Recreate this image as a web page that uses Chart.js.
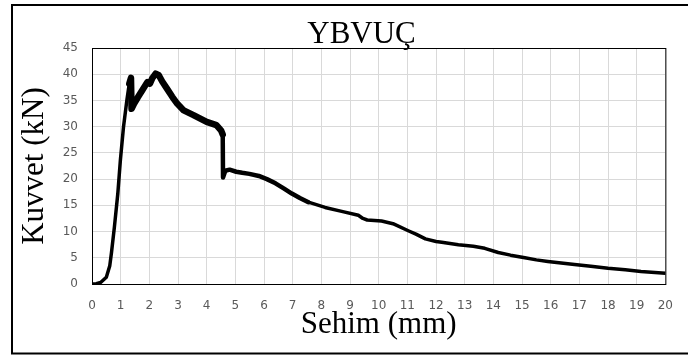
<!DOCTYPE html>
<html>
<head>
<meta charset="utf-8">
<script src="https://cdn.jsdelivr.net/npm/chart.js@4"></script>
<style>
  html,body{margin:0;padding:0;background:#fff;}
  #wrap{width:688px;height:356px;position:relative;}
</style>
</head>
<body>
<div id="wrap"><canvas id="c" width="688" height="356"></canvas></div>
<script>
// Deflection (mm) and force (kN)
const sehim = [0, 0.15, 0.3, 0.5, 0.62, 0.68, 0.78, 0.9, 0.99, 1.1, 1.22, 1.3, 1.36, 1.38, 1.47, 1.6, 1.76, 1.93, 2.02, 2.1, 2.22, 2.33, 2.45, 2.62, 2.8, 2.97, 3.2, 3.54, 4.0, 4.34, 4.5, 4.56, 4.57, 4.65, 4.8, 5.03, 5.24, 5.49, 5.82, 6.1, 6.4, 6.7, 6.97, 7.25, 7.55, 8.13, 8.71, 9.29, 9.45, 9.6, 10.1, 10.5, 11.05, 11.3, 11.63, 12.0, 12.2, 12.78, 13.3, 13.7, 14.17, 14.6, 15.1, 15.5, 15.9, 16.83, 17.4, 18.0, 18.6, 19.15, 20];
const kuvvet = [0, 0.05, 0.3, 1.3, 3.5, 6, 10.8, 17.2, 23.6, 30, 35.2, 38.2, 39.3, 33.4, 34.4, 35.6, 37, 38.5, 38.2, 39.2, 40.1, 39.8, 38.6, 37.2, 35.7, 34.4, 33.1, 32.2, 30.9, 30.3, 29.3, 28.5, 20.3, 21.6, 21.8, 21.4, 21.2, 21.0, 20.6, 20.0, 19.2, 18.2, 17.25, 16.4, 15.6, 14.6, 13.85, 13.1, 12.5, 12.2, 12.0, 11.5, 10.1, 9.5, 8.6, 8.1, 7.95, 7.5, 7.2, 6.8, 6.0, 5.5, 5.0, 4.6, 4.3, 3.7, 3.4, 3.0, 2.7, 2.4, 2.05];
const xTicks = [0, 1, 2, 3, 4, 5, 6, 7, 8, 9, 10, 11, 12, 13, 14, 15, 16, 17, 18, 19, 20];
const yTicks = [0, 5, 10, 15, 20, 25, 30, 35, 40, 45];
const chartTitle = 'YBVUÇ';
const xTitle = 'Sehim (mm)';
const yTitle = 'Kuvvet (kN)';

const points = sehim.map((x, i) => ({x: x, y: kuvvet[i]}));

const framePlugin = {
  id: 'frame',
  beforeDatasetsDraw(chart) {
    const {ctx, chartArea: a} = chart;
    ctx.save();
    ctx.strokeStyle = '#000';
    ctx.lineWidth = 1;
    ctx.strokeRect(a.left + 0.5, a.top + 0.5, a.right - a.left, a.bottom - a.top);
    ctx.restore();
  },
  afterDraw(chart) {
    const {ctx} = chart;
    ctx.save();
    ctx.strokeStyle = '#000';
    ctx.lineWidth = 2;
    ctx.strokeRect(12, 5, 700, 348.5);
    ctx.restore();
  }
};

new Chart(document.getElementById('c'), {
  type: 'line',
  data: {
    datasets: [{
      data: points,
      borderColor: '#000',
      borderWidth: 3.5,
      borderJoinStyle: 'round',
      borderCapStyle: 'round',
      pointRadius: 0,
      tension: 0,
      fill: false,
      segment: {
        borderWidth: ctx => {
          const x = ctx.p0.parsed.x;
          if (x >= 1.3 && x < 4.56) return 6.5;
          if (x >= 4.56 && x < 7.5) return 4.5;
          return 3.5;
        }
      }
    }]
  },
  options: {
    responsive: false,
    animation: false,
    layout: {padding: {top: 17, right: 19, bottom: 0, left: 54}},
    plugins: {
      legend: {display: false},
      tooltip: {enabled: false},
      title: {
        display: true,
        text: chartTitle,
        color: '#000',
        font: {family: 'Liberation Serif', size: 31, weight: 'normal', lineHeight: 1},
        padding: {top: 2, bottom: -2}
      }
    },
    scales: {
      x: {
        type: 'linear',
        min: 0, max: 20,
        afterBuildTicks: s => { s.ticks = xTicks.map(v => ({value: v})); },
        afterFit: s => { s.height = 72; },
        ticks: {
          color: '#595959',
          font: {family: 'DejaVu Sans', size: 12},
          padding: 15,
          maxRotation: 0,
          autoSkip: false
        },
        grid: {color: '#d9d9d9', lineWidth: 1, drawTicks: false},
        border: {display: false},
        title: {
          display: true,
          text: xTitle,
          color: '#000',
          font: {family: 'Liberation Serif', size: 31, lineHeight: 1},
          padding: {top: 0, bottom: 16}
        }
      },
      y: {
        type: 'linear',
        min: 0, max: 45,
        afterBuildTicks: s => { s.ticks = yTicks.map(v => ({value: v})); },
        afterFit: s => { s.width = 38; },
        ticks: {
          color: '#595959',
          font: {family: 'DejaVu Sans', size: 12},
          padding: 14,
          autoSkip: false
        },
        grid: {color: '#d9d9d9', lineWidth: 1, drawTicks: false},
        border: {display: false},
        title: {
          display: true,
          text: yTitle,
          color: '#000',
          font: {family: 'Liberation Serif', size: 31, lineHeight: 1},
          padding: {top: -35, bottom: 0}
        }
      }
    }
  },
  plugins: [framePlugin]
});
</script>
</body>
</html>
